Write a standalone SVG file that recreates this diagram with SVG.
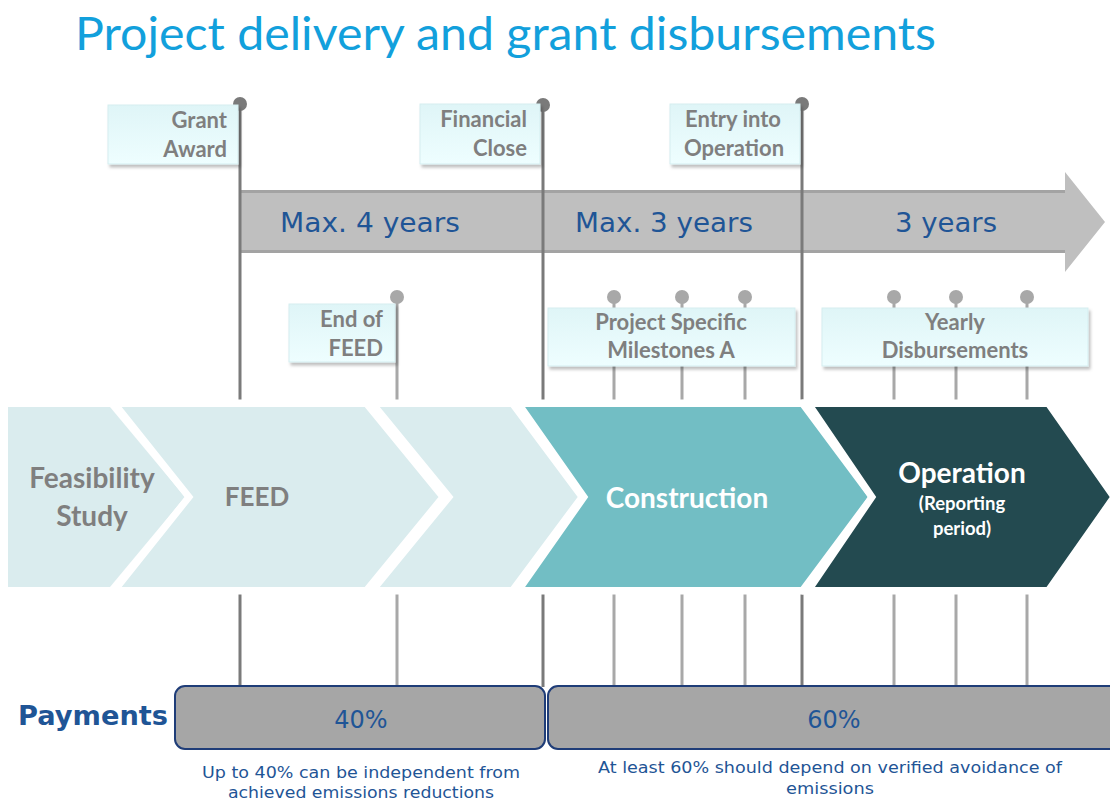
<svg xmlns="http://www.w3.org/2000/svg" width="1110" height="801" viewBox="0 0 1110 801">
<defs>
<linearGradient id="lbl" x1="0" y1="0" x2="0" y2="1">
<stop offset="0" stop-color="#dff5f7"/>
<stop offset="1" stop-color="#eefeff"/>
</linearGradient>
<filter id="sh" x="-10%" y="-10%" width="130%" height="140%">
<feDropShadow dx="2" dy="3" stdDeviation="1.5" flood-color="#000" flood-opacity="0.25"/>
</filter>
<style>
.title{font-family:Lato,"Open Sans",sans-serif;font-size:46px;fill:#12a0dc}
.lbl{fill:url(#lbl);stroke:#d5eef0;stroke-width:1;filter:url(#sh)}
.lt{font-family:Lato,"Open Sans",sans-serif;font-weight:bold;font-size:22px;fill:#7f7f7f}
.dark{stroke:#7a7a7a;stroke-width:3;fill:none}
.light{stroke:#a8a8a8;stroke-width:3;fill:none}
.dk{fill:#7a7a7a}
.lg{fill:#a8a8a8}
.blue{font-family:"DejaVu Sans",Verdana,sans-serif;fill:#1f5596}
.chev{stroke:#fff;stroke-width:7;stroke-linejoin:miter}
.ct{font-family:Lato,"Open Sans",sans-serif;font-weight:bold;text-anchor:middle}
.pay{fill:#a6a6a6;stroke:#1f3d78;stroke-width:2}
</style>
</defs>
<rect width="1110" height="801" fill="#fff"/>
<text class="title" x="75" y="50" textLength="861" lengthAdjust="spacingAndGlyphs">Project delivery and grant disbursements</text>

<g id="timeline-arrow">
<polygon points="240,190 1065,190 1065,172 1105,222 1065,272 1065,253 240,253" fill="#bfbfbf"/>
<line x1="240" y1="191.5" x2="1065" y2="191.5" stroke="#a3a3a3" stroke-width="3"/>
<line x1="240" y1="251.5" x2="1065" y2="251.5" stroke="#a3a3a3" stroke-width="3"/>
<text class="blue" x="280" y="232" font-size="26" textLength="180" lengthAdjust="spacingAndGlyphs">Max. 4 years</text>
<text class="blue" x="575" y="232" font-size="26" textLength="178" lengthAdjust="spacingAndGlyphs">Max. 3 years</text>
<text class="blue" x="895" y="232" font-size="26" textLength="102" lengthAdjust="spacingAndGlyphs">3 years</text>
</g>

<g id="connectors">
<line class="dark" x1="240" y1="104" x2="240" y2="687"/>
<line class="dark" x1="543" y1="105" x2="543" y2="687"/>
<line class="dark" x1="802" y1="104" x2="802" y2="687"/>
<line class="light" x1="397" y1="297" x2="397" y2="687"/>
<line class="light" x1="614" y1="297" x2="614" y2="687"/>
<line class="light" x1="682" y1="297" x2="682" y2="687"/>
<line class="light" x1="745" y1="297" x2="745" y2="687"/>
<line class="light" x1="894" y1="297" x2="894" y2="687"/>
<line class="light" x1="956" y1="297" x2="956" y2="687"/>
<line class="light" x1="1027" y1="297" x2="1027" y2="687"/>
<circle class="dk" cx="240" cy="104" r="7"/>
<circle class="dk" cx="543" cy="105" r="7"/>
<circle class="dk" cx="802" cy="104" r="7"/>
<circle class="lg" cx="397" cy="297" r="7"/>
<circle class="lg" cx="614" cy="297" r="7"/>
<circle class="lg" cx="682" cy="297" r="7"/>
<circle class="lg" cx="745" cy="297" r="7"/>
<circle class="lg" cx="894" cy="297" r="7"/>
<circle class="lg" cx="956" cy="297" r="7"/>
<circle class="lg" cx="1027" cy="297" r="7"/>
</g>

<g id="grant-award">
<rect class="lbl" x="108" y="105" width="130" height="59"/>
<text class="lt" x="227" y="128" text-anchor="end">Grant</text>
<text class="lt" x="227" y="157" text-anchor="end">Award</text>
</g>
<g id="financial-close">
<rect class="lbl" x="420" y="104" width="120" height="60"/>
<text class="lt" x="527" y="127" text-anchor="end">Financial</text>
<text class="lt" x="527" y="156" text-anchor="end">Close</text>
</g>
<g id="entry-into-operation">
<rect class="lbl" x="670" y="104" width="130" height="60"/>
<text class="lt" x="733" y="127" text-anchor="middle">Entry into</text>
<text class="lt" x="734" y="156" text-anchor="middle">Operation</text>
</g>
<g id="end-of-feed">
<rect class="lbl" x="289" y="304" width="106" height="58"/>
<text class="lt" x="383" y="327" text-anchor="end">End of</text>
<text class="lt" x="383" y="356" text-anchor="end">FEED</text>
</g>
<g id="milestones-a">
<rect class="lbl" x="548" y="308" width="247" height="58"/>
<text class="lt" x="671" y="330" text-anchor="middle">Project Specific</text>
<text class="lt" x="671" y="358" text-anchor="middle">Milestones A</text>
</g>
<g id="yearly-disbursements">
<rect class="lbl" x="822" y="308" width="266" height="58"/>
<text class="lt" x="955" y="330" text-anchor="middle">Yearly</text>
<text class="lt" x="955" y="358" text-anchor="middle">Disbursements</text>
</g>

<g id="feasibility-study">
<polygon points="8,407 110,407 185,497 110,587 8,587" fill="#daecee"/>
<text class="ct" x="92" y="488" font-size="28" fill="#7f7f7f">Feasibility</text>
<text class="ct" x="92" y="526" font-size="28" fill="#7f7f7f">Study</text>
</g>
<g id="feed">
<polygon class="chev" points="114,403 366,403 443,497 366,591 114,591 189,497" fill="#daecee"/>
<text class="ct" x="257" y="506" font-size="26" fill="#7f7f7f">FEED</text>
</g>
<g id="pre-construction">
<polygon class="chev" points="372,403 512,403 582,497 512,591 372,591 449,497" fill="#daecee"/>
</g>
<g id="construction">
<polygon class="chev" points="518,403 802,403 872,497 802,591 518,591 584,497" fill="#72bec4"/>
<text class="ct" x="687" y="508" font-size="28" fill="#fff">Construction</text>
</g>
<g id="operation">
<polygon class="chev" points="808,403 1048,403 1114,497 1048,591 808,591 872,497" fill="#234a50"/>
<text class="ct" x="962" y="483" font-size="28" fill="#fff">Operation</text>
<text class="ct" x="962" y="510" font-size="18.5" fill="#fff">(Reporting</text>
<text class="ct" x="962" y="535" font-size="18.5" fill="#fff">period)</text>
</g>
<rect x="0" y="403" width="8" height="190" fill="#fff"/>
<rect x="0" y="403" width="1110" height="4" fill="#fff"/>
<rect x="0" y="587" width="1110" height="5" fill="#fff"/>

<g id="payments">
<text class="blue" x="18" y="725" font-size="27" font-weight="bold" fill="#1c5494" textLength="150" lengthAdjust="spacingAndGlyphs">Payments</text>
<rect class="pay" x="175" y="686" width="370" height="63" rx="10"/>
<text class="blue" x="361" y="728" font-size="24" text-anchor="middle">40%</text>
<rect class="pay" x="548" y="686" width="575" height="63" rx="10"/>
<text class="blue" x="834" y="728" font-size="24" text-anchor="middle">60%</text>
<text class="blue" x="361" y="778" font-size="16" text-anchor="middle" textLength="318" lengthAdjust="spacingAndGlyphs">Up to 40% can be independent from</text>
<text class="blue" x="361" y="798" font-size="16" text-anchor="middle" textLength="266" lengthAdjust="spacingAndGlyphs">achieved emissions reductions</text>
<text class="blue" x="830" y="773" font-size="16" text-anchor="middle" textLength="464" lengthAdjust="spacingAndGlyphs">At least 60% should depend on verified avoidance of</text>
<text class="blue" x="830" y="794" font-size="16" text-anchor="middle" textLength="88" lengthAdjust="spacingAndGlyphs">emissions</text>
</g>
</svg>
